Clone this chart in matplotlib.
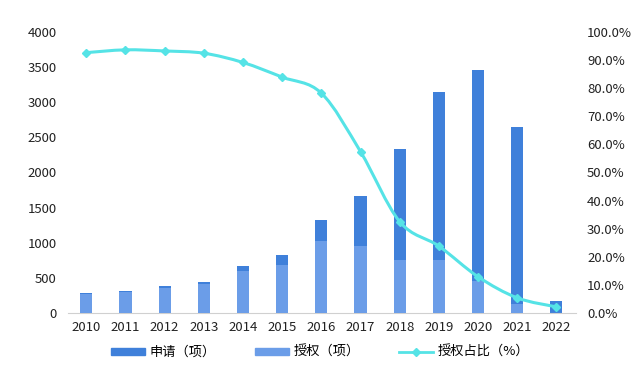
import numpy as np
import matplotlib
matplotlib.use('Agg')
import matplotlib.pyplot as plt
from matplotlib.path import Path
from matplotlib.patches import PathPatch
from matplotlib.lines import Line2D
from matplotlib.patches import Patch

plt.rcParams['font.family'] = ['Noto Sans CJK SC', 'DejaVu Sans']

years = ['2010', '2011', '2012', '2013', '2014', '2015', '2016',
         '2017', '2018', '2019', '2020', '2021', '2022']
apply_cnt = [290, 313, 384, 446, 673, 821, 1319, 1665, 2334, 3150, 3459, 2643, 175]
grant_cnt = [268, 293, 357, 410, 596, 686, 1030, 955, 760, 752, 450, 135, 4]
grant_pct = [92.6, 93.6, 93.2, 92.4, 89.1, 83.9, 78.2, 57.4, 32.5, 23.8, 12.9, 5.4, 2.2]

c_apply = '#3f80da'
c_grant = '#6b9de8'
c_line = '#55e3e6'

fig = plt.figure(figsize=(6.4, 3.79), dpi=100)
ax = fig.add_axes([0.106, 0.174, 0.794, 0.742])
ax2 = ax.twinx()

x = np.arange(len(years))
w = 0.31
ax.bar(x, apply_cnt, width=w, color=c_apply, zorder=2)
ax.bar(x, grant_cnt, width=w, color=c_grant, zorder=3)

# smoothed line (Catmull-Rom -> cubic bezier), drawn as a path
xs = x.astype(float)
ys = np.array(grant_pct, dtype=float)
verts = [(xs[0], ys[0])]
codes = [Path.MOVETO]
n = len(xs)
for i in range(n - 1):
    p0 = (xs[i - 1], ys[i - 1]) if i > 0 else (xs[i], ys[i])
    p1 = (xs[i], ys[i])
    p2 = (xs[i + 1], ys[i + 1])
    p3 = (xs[i + 2], ys[i + 2]) if i + 2 < n else p2
    t = 1 / 6
    c1 = (p1[0] + (p2[0] - p0[0]) * t, p1[1] + (p2[1] - p0[1]) * t)
    c2 = (p2[0] - (p3[0] - p1[0]) * t, p2[1] - (p3[1] - p1[1]) * t)
    verts += [c1, c2, p2]
    codes += [Path.CURVE4] * 3
ax2.add_patch(PathPatch(Path(verts, codes), fill=False, edgecolor=c_line,
                        lw=2.2, zorder=4, capstyle='round'))
ax2.plot(x, grant_pct, ls='none', marker='D', ms=4, color=c_line, zorder=5)

ax.set_xlim(-0.47, 12.5)
ax.set_ylim(0, 4000)
ax.set_yticks(np.arange(0, 4001, 500))
ax2.set_ylim(0, 100)
ax2.set_yticks(np.arange(0, 101, 10))
ax2.set_yticklabels(['%.1f%%' % v for v in np.arange(0, 101, 10)])
ax.set_xticks(x)
ax.set_xticklabels(years)

for a in (ax, ax2):
    for s in a.spines.values():
        s.set_visible(False)
    a.tick_params(length=0, labelsize=9.5, colors='#222222')
ax.spines['bottom'].set_visible(True)
ax.spines['bottom'].set_color('#d0d0d0')
ax.tick_params(axis='x', pad=6)
ax.tick_params(axis='y', pad=8)
ax2.tick_params(axis='y', pad=8)

handles = [Patch(color=c_apply), Patch(color=c_grant),
           Line2D([0], [0], color=c_line, lw=2, marker='D', ms=4)]
labels = ['申请（项）', '授权（项）', '授权占比（%）']
fig.legend(handles, labels, loc='center', bbox_to_anchor=(0.5, 0.07), ncol=3,
           frameon=False, fontsize=9.5, handlelength=2.6, handleheight=0.4,
           columnspacing=3.0, handletextpad=0.3)

fig.savefig('out.png', dpi=100, facecolor='white')
